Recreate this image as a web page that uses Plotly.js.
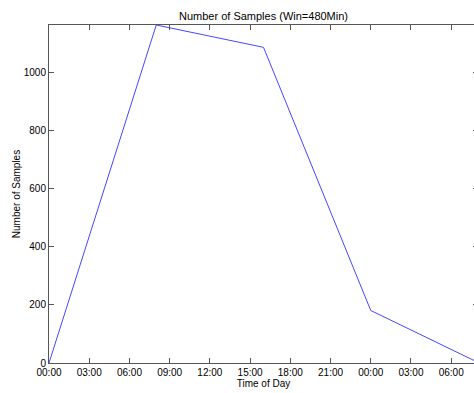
<!DOCTYPE html>
<html>
<head>
<meta charset="utf-8">
<script src="https://cdn.plot.ly/plotly-3.0.1.min.js"></script>
<style>
html,body{margin:0;padding:0;overflow:hidden;background:#fff;}
#chart{width:478px;height:393px;}
</style>
</head>
<body>
<div id="chart"></div>
<script>
const times = ['2000-01-01 00:00','2000-01-01 08:00','2000-01-01 16:00','2000-01-02 00:00','2000-01-02 08:00'];
const samples = [0, 1165, 1088, 181, 2];
const chartTitle = 'Number of Samples (Win=480Min)';
const xTitle = 'Time of Day';
const yTitle = 'Number of Samples';

const axisColor = '#555555';
const font = {family: 'Liberation Sans, Arial, sans-serif', size: 10, color: '#000'};

const trace = {
  x: times, y: samples, type: 'scatter', mode: 'lines',
  line: {color: '#4646ff', width: 1}, hoverinfo: 'skip'
};

const layout = {
  width: 478, height: 393,
  margin: {l: 49, r: 0, t: 25, b: 30, pad: 0},
  paper_bgcolor: '#fff', plot_bgcolor: '#fff',
  font: font,
  showlegend: false,
  title: {text: chartTitle, font: {family: font.family, size: 11, color: '#000'}, x: 0.5, xref: 'paper', y: 1, yref: 'paper', yanchor: 'bottom', pad: {b: 5}},
  xaxis: {
    type: 'date',
    range: [times[0], times[times.length-1]],
    tickformat: '%H:%M', dtick: 3*3600*1000, tick0: times[0],
    ticks: 'inside', ticklen: 5, tickcolor: axisColor, tickwidth: 1,
    showline: true, linecolor: axisColor, linewidth: 1, mirror: 'ticks',
    showgrid: false, zeroline: false,
    tickfont: font,
    title: {text: xTitle, font: font, standoff: 1}
  },
  yaxis: {
    range: [0, 1165], dtick: 200, tick0: 0,
    ticks: 'inside', ticklen: 5, tickcolor: axisColor, tickwidth: 1,
    showline: true, linecolor: axisColor, linewidth: 1, mirror: 'ticks',
    showgrid: false, zeroline: false,
    tickfont: font,
    title: {text: yTitle, font: font, standoff: 1}
  }
};

Plotly.newPlot('chart', [trace], layout, {staticPlot: true, displayModeBar: false});
</script>
</body>
</html>
